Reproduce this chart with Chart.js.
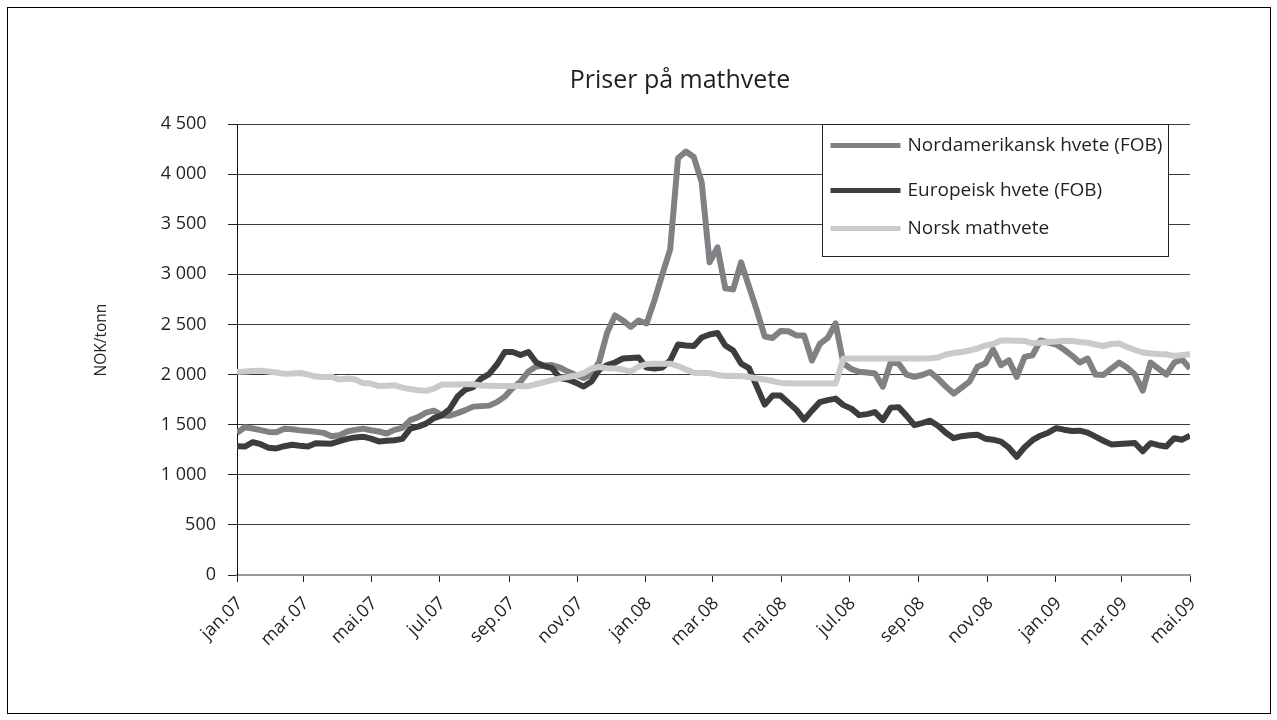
<!DOCTYPE html>
<html>
<head>
<meta charset="utf-8">
<script src="https://cdn.jsdelivr.net/npm/chart.js@4/dist/chart.umd.min.js"></script>
<style>
  html, body { margin: 0; padding: 0; background: #fff; }
  #frame { position: absolute; left: 7px; top: 7px; width: 1262px; height: 705px; border: 1px solid #000; }
  #chart { position: absolute; left: 0; top: 0; }
  .txt { position: absolute; font-family: "Open Sans", "Noto Sans", sans-serif; color: #231f20; white-space: nowrap; }
  #title { left: 480px; top: 66px; width: 400px; text-align: center; font-size: 25px; line-height: 25px; }
  #ytitle { left: 40px; top: 330px; width: 120px; height: 20px; line-height: 20px; text-align: center;
            font-size: 15.5px; transform: rotate(-90deg); }
</style>
</head>
<body>
<div id="frame"></div>
<canvas id="chart" width="1277" height="720"></canvas>
<div class="txt" id="title">Priser på mathvete</div>
<div class="txt" id="ytitle">NOK/tonn</div>
<script>
const FONT = '"Open Sans", "Noto Sans", sans-serif';

// month ticks (every 2nd month) and their day offset from 1 Jan 2007
const tickLabels = ['jan.07', 'mar.07', 'mai.07', 'jul.07', 'sep.07', 'nov.07', 'jan.08', 'mar.08',
  'mai.08', 'jul.08', 'sep.08', 'nov.08', 'jan.09', 'mar.09', 'mai.09'];
const tickDays = [0, 59, 120, 181, 243, 304, 365, 425, 486, 547, 609, 670, 731, 790, 851];

// weekly prices, NOK/tonn
const nordAm = [
  1420, 1475, 1462, 1445, 1428, 1425, 1460, 1455, 1443, 1437, 1428, 1418, 1385, 1395, 1432, 1448,
  1460, 1445, 1432, 1412, 1448, 1468, 1545, 1575, 1620, 1640, 1595, 1590, 1615, 1645, 1680, 1685,
  1690, 1725, 1780, 1865, 1930, 2030, 2080, 2090, 2095, 2070, 2030, 1995, 1965, 2000, 2130, 2420,
  2590, 2540, 2475, 2540, 2510, 2740, 3000, 3250, 4160, 4225, 4170, 3920, 3120, 3270, 2860, 2850,
  3120, 2880, 2640, 2380, 2365, 2435, 2432, 2390, 2390, 2140, 2305, 2365, 2510, 2110, 2055, 2027,
  2020, 2010, 1880, 2120, 2110, 2000, 1978, 1995, 2025, 1960, 1880, 1810, 1870, 1930, 2077, 2110,
  2250, 2093, 2143, 1977, 2177, 2193, 2340, 2320, 2300, 2250, 2190, 2120, 2160, 2000, 1995, 2060,
  2120, 2070, 2000, 1840, 2120, 2060, 2000, 2120, 2150, 2060
];
const europa = [
  1285, 1282, 1325, 1305, 1270, 1263, 1285, 1300, 1290, 1283, 1315, 1313, 1310, 1335, 1358, 1373,
  1380, 1360, 1333, 1340, 1345, 1358, 1460, 1480, 1510, 1565, 1593, 1655, 1780, 1850, 1875, 1960,
  2005, 2100, 2225, 2225, 2195, 2225, 2120, 2085, 2065, 1965, 1950, 1920, 1880, 1930, 2050, 2095,
  2120, 2160, 2165, 2170, 2070, 2060, 2070, 2140, 2300, 2290, 2285, 2370, 2400, 2415, 2290, 2240,
  2110, 2065, 1880, 1700, 1790, 1790, 1720, 1650, 1550, 1640, 1725, 1745, 1760, 1695, 1660, 1595,
  1605, 1625, 1545, 1670, 1675, 1590, 1495, 1515, 1540, 1490, 1420, 1365, 1385, 1395, 1400, 1360,
  1350, 1330, 1270, 1180, 1275, 1345, 1390, 1420, 1465, 1450, 1437, 1440, 1420, 1380, 1340, 1303,
  1308, 1313, 1317, 1235, 1315, 1295, 1283, 1365, 1350, 1390
];
const norsk = [
  2027, 2030, 2035, 2037, 2030, 2020, 2007, 2010, 2015, 2000, 1980, 1975, 1978, 1950, 1960, 1950,
  1915, 1910, 1885, 1888, 1893, 1870, 1855, 1843, 1838, 1860, 1900, 1902, 1902, 1903, 1903, 1890,
  1888, 1886, 1885, 1885, 1885, 1884, 1905, 1925, 1945, 1962, 1975, 1990, 2015, 2060, 2075, 2063,
  2060, 2050, 2030, 2080, 2105, 2108, 2108, 2108, 2085, 2050, 2017, 2015, 2015, 1995, 1985, 1987,
  1985, 1975, 1960, 1950, 1935, 1917, 1913, 1910, 1910, 1910, 1910, 1910, 1910, 2160, 2160, 2160,
  2160, 2160, 2160, 2160, 2160, 2160, 2160, 2160, 2163, 2170, 2200, 2215, 2225, 2240, 2260, 2290,
  2305, 2340, 2340, 2338, 2335, 2312, 2318, 2325, 2330, 2338, 2335, 2325, 2317, 2300, 2285, 2305,
  2310, 2275, 2245, 2220, 2210, 2205, 2202, 2185, 2195, 2202
];

const lastWeek = nordAm.length - 1;
const toPoints = (arr) => arr.map((v, i) => ({ x: i, y: v }));

function fmtNok(v) {
  if (v < 1000) return String(v);
  const rest = String(v % 1000).padStart(3, '0');
  return Math.floor(v / 1000) + ' ' + rest + '  ';
}

// legend drawn as a framed box inside the plot, like the original
const boxLegend = {
  id: 'boxLegend',
  afterDatasetsDraw(chart) {
    const { ctx, chartArea: a } = chart;
    const left = a.right - 367.5;
    const top = a.top + 0.5;
    const w = 346, h = 132;
    ctx.save();
    ctx.fillStyle = '#fff';
    ctx.fillRect(left, top, w, h);
    ctx.strokeStyle = '#222';
    ctx.lineWidth = 1;
    ctx.strokeRect(left, top, w, h);
    const rows = [21, 66, 104];
    ctx.font = '19px ' + FONT;
    ctx.textBaseline = 'middle';
    ctx.fillStyle = '#231f20';
    chart.data.datasets.forEach((ds, r) => {
      const y = top + rows[r];
      ctx.beginPath();
      ctx.strokeStyle = ds.borderColor;
      ctx.lineWidth = 5;
      ctx.moveTo(left + 8, y);
      ctx.lineTo(left + 78, y);
      ctx.stroke();
      ctx.fillText(ds.label, left + 85, y);
    });
    ctx.restore();
  }
};

new Chart(document.getElementById('chart'), {
  type: 'line',
  data: {
    datasets: [
      { label: 'Nordamerikansk hvete (FOB)', data: toPoints(nordAm), borderColor: '#808184', order: 3 },
      { label: 'Europeisk hvete (FOB)', data: toPoints(europa), borderColor: '#3d3d3d', order: 2 },
      { label: 'Norsk mathvete', data: toPoints(norsk), borderColor: '#c9cacc', order: 1 }
    ]
  },
  options: {
    responsive: false,
    animation: false,
    devicePixelRatio: 1,
    layout: { padding: { left: 0, right: 87, top: 124, bottom: 0 } },
    elements: {
      line: { borderWidth: 6, tension: 0, borderJoinStyle: 'round', borderCapStyle: 'butt' },
      point: { radius: 0 }
    },
    plugins: {
      legend: { display: false },
      tooltip: { enabled: false },
      title: { display: false }
    },
    scales: {
      x: {
        type: 'linear',
        min: 0,
        max: lastWeek,
        afterBuildTicks: (s) => { s.ticks = tickDays.map((d) => ({ value: d / 851 * lastWeek })); },
        afterFit: (s) => { s.height = 145; },
        ticks: {
          autoSkip: false,
          minRotation: 45,
          maxRotation: 45,
          padding: 11,
          labelOffset: 3,
          color: '#231f20',
          font: { family: FONT, size: 18 },
          callback: (v, i) => tickLabels[i]
        },
        grid: { drawOnChartArea: false, tickLength: 7, tickColor: '#222', lineWidth: 1 },
        border: { color: '#9a9a9a', width: 2 }
      },
      y: {
        min: 0,
        max: 4500,
        afterFit: (s) => { s.width = 237; },
        ticks: {
          stepSize: 500,
          padding: 12,
          color: '#231f20',
          font: { family: FONT, size: 18 },
          callback: (v) => fmtNok(v)
        },
        grid: {
          color: (c) => (c.tick && c.tick.value === 0 ? 'rgba(0,0,0,0)' : '#3a3a3a'),
          lineWidth: 1,
          tickLength: 9,
          tickColor: '#222'
        },
        border: { color: '#111', width: 1 }
      }
    }
  },
  plugins: [boxLegend]
});
</script>
</body>
</html>
